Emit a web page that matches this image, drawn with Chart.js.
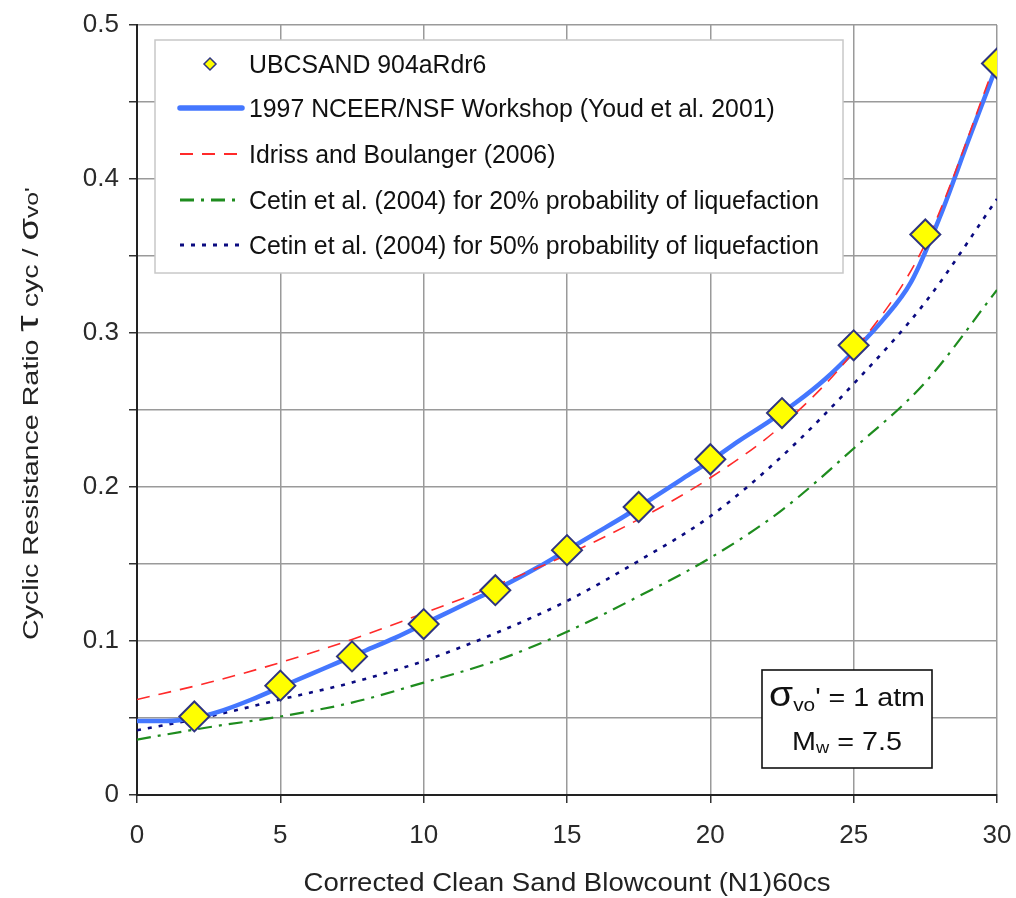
<!DOCTYPE html>
<html>
<head>
<meta charset="utf-8">
<script src="https://cdn.jsdelivr.net/npm/chart.js@4.4.1/dist/chart.umd.min.js"></script>
<style>
html,body{margin:0;padding:0;background:#fff;}
#wrap{position:relative;width:1016px;height:898px;}
</style>
</head>
<body>
<div id="wrap"><canvas id="c" width="1016" height="898"></canvas></div>
<script>
// ---- data ----
const ubcX = [2, 5, 7.5, 10, 12.5, 15, 17.5, 20, 22.5, 25, 27.5, 30];
const ubcY = [0.051, 0.071, 0.090, 0.111, 0.133, 0.159, 0.187, 0.218, 0.248, 0.292, 0.364, 0.475];

const youdX = [0, 1, 2, 3, 4, 5, 6, 7, 8, 9, 10, 11, 12, 13, 14, 15, 16, 17, 18, 19, 20, 21, 22, 23, 24, 25, 26, 27, 28, 29, 30];
const youdY = [0.048, 0.048, 0.050, 0.055, 0.062, 0.070, 0.078, 0.086, 0.094, 0.102, 0.111, 0.120, 0.129, 0.138, 0.148, 0.159, 0.170, 0.181, 0.193, 0.205, 0.217, 0.230, 0.242, 0.255, 0.270, 0.288, 0.308, 0.333, 0.375, 0.425, 0.474];

const ibX = [0, 2.5, 5, 7.5, 10, 12.5, 15, 17.5, 20, 22.5, 25, 27.5, 30];
const ibY = [0.062, 0.073, 0.086, 0.101, 0.118, 0.136, 0.156, 0.179, 0.206, 0.240, 0.288, 0.358, 0.478];

const c20X = [0, 2.5, 5, 7.5, 10, 12.5, 15, 17.5, 20, 22.5, 25, 27.5, 30];
const c20Y = [0.036, 0.044, 0.051, 0.060, 0.073, 0.087, 0.106, 0.129, 0.154, 0.185, 0.225, 0.268, 0.328];

const c50X = [0, 2.5, 5, 7.5, 10, 12.5, 15, 17.5, 20, 22.5, 25, 27.5, 30];
const c50Y = [0.042, 0.051, 0.062, 0.073, 0.087, 0.105, 0.126, 0.152, 0.181, 0.220, 0.267, 0.320, 0.387];

const seriesNames = [
  "UBCSAND 904aRdr6",
  "1997 NCEER/NSF Workshop (Youd et al. 2001)",
  "Idriss and Boulanger (2006)",
  "Cetin et al. (2004) for 20% probability of liquefaction",
  "Cetin et al. (2004) for 50% probability of liquefaction"
];
const xTickValues = [0, 5, 10, 15, 20, 25, 30];
const yTickLabels = ["0", "0.1", "0.2", "0.3", "0.4", "0.5"];
const xTitle = "Corrected Clean Sand Blowcount (N1)60cs";

const FONT = "'Liberation Sans', Arial, sans-serif";
const pts = (xs, ys) => xs.map((x, i) => ({x: x, y: ys[i]}));

const datasets = [
  {label: seriesNames[0], data: pts(ubcX, ubcY), showLine: false, pointStyle: 'rectRot',
   pointRadius: 15, pointHoverRadius: 15, backgroundColor: '#ffff00', borderColor: '#2f3580', pointBorderWidth: 2, order: 0},
  {label: seriesNames[1], data: pts(youdX, youdY), showLine: true, borderColor: '#4477ff', borderWidth: 4.5,
   pointRadius: 0, cubicInterpolationMode: 'monotone', order: 2, borderCapStyle: 'round'},
  {label: seriesNames[2], data: pts(ibX, ibY), showLine: true, borderColor: '#ff2a2a', borderWidth: 1.6,
   borderDash: [13, 9], pointRadius: 0, cubicInterpolationMode: 'monotone', order: 1},
  {label: seriesNames[3], data: pts(c20X, c20Y), showLine: true, borderColor: '#1e8c1e', borderWidth: 2.2,
   borderDash: [14, 7, 3, 7], pointRadius: 0, cubicInterpolationMode: 'monotone', order: 4},
  {label: seriesNames[4], data: pts(c50X, c50Y), showLine: true, borderColor: '#0a0a80', borderWidth: 2.6,
   borderDash: [4, 7], pointRadius: 0, cubicInterpolationMode: 'monotone', order: 3}
];

// draw text segments [text, size, dy] stretched to a target width, with a cross-axis stretch
function drawStretched(ctx, segs, x0, baseY, targetW, vScale, align) {
  let total = 0;
  segs.forEach(s => { ctx.font = s[1] + "px " + FONT; s.w = ctx.measureText(s[0]).width; total += s.w; });
  const hs = targetW ? targetW / total : 1;
  const start = align === 'center' ? x0 - total * hs / 2 : x0;
  ctx.save();
  ctx.translate(start, baseY);
  ctx.scale(hs, vScale);
  let x = 0;
  segs.forEach(s => { ctx.font = s[1] + "px " + FONT; ctx.fillText(s[0], x, (s[2] || 0)); x += s.w; });
  ctx.restore();
}

const overlay = {
  id: 'overlay',
  afterDraw(chart) {
    const ctx = chart.ctx;
    const ca = chart.chartArea;
    ctx.save();
    // ---- legend ----
    const lx = 155, ly = 40, lw = 688, lh = 233;
    ctx.fillStyle = '#fff';
    ctx.fillRect(lx, ly, lw, lh);
    ctx.strokeStyle = '#c8c8c8';
    ctx.lineWidth = 1.5;
    ctx.strokeRect(lx, ly, lw, lh);
    ctx.font = "20px " + FONT;
    const refW = ctx.measureText(seriesNames[3]).width;
    const legScale = 570 / refW;
    ctx.textBaseline = 'alphabetic';
    ctx.textAlign = 'left';
    const rows = [64, 108, 154, 200, 245];
    chart.data.datasets.forEach((ds, i) => {
      const y = rows[i];
      if (i === 0) {
        ctx.beginPath();
        ctx.moveTo(210, y - 6); ctx.lineTo(216, y); ctx.lineTo(210, y + 6); ctx.lineTo(204, y); ctx.closePath();
        ctx.fillStyle = ds.backgroundColor; ctx.fill();
        ctx.strokeStyle = ds.borderColor; ctx.lineWidth = 1.5; ctx.stroke();
      } else {
        ctx.beginPath();
        ctx.setLineDash(ds.borderDash || []);
        ctx.lineCap = i === 1 ? 'round' : 'butt';
        ctx.strokeStyle = ds.borderColor;
        ctx.lineWidth = ds.borderWidth + (i === 1 ? 1 : 0.6);
        ctx.moveTo(180, y); ctx.lineTo(242, y);
        ctx.stroke();
        ctx.setLineDash([]);
      }
      ctx.fillStyle = '#111';
      ctx.font = "20px " + FONT;
      const w = ctx.measureText(ds.label).width * legScale;
      drawStretched(ctx, [[ds.label, 20, 0]], 249, y + 9, w, 1.25, 'left');
    });

    // ---- info box ----
    const bx = 762, by = 670, bw = 170, bh = 98;
    ctx.fillStyle = '#fff';
    ctx.fillRect(bx, by, bw, bh);
    ctx.strokeStyle = '#111';
    ctx.lineWidth = 1.6;
    ctx.strokeRect(bx, by, bw, bh);
    ctx.fillStyle = '#111';
    drawStretched(ctx, [["σ", 30, 0], ["vo", 16, 4], ["' = 1 atm", 22, 0]], bx + bw / 2, 706, 156, 1.15, 'center');
    drawStretched(ctx, [["M", 22, 0], ["w", 14, 3], [" = 7.5", 22, 0]], bx + bw / 2, 750, 110, 1.15, 'center');

    // ---- x title ----
    ctx.fillStyle = '#222';
    drawStretched(ctx, [[xTitle, 21, 0]], (ca.left + ca.right) / 2, 891, 527, 1.2, 'center');

    // ---- y title ----
    ctx.save();
    ctx.translate(38, 640);
    ctx.rotate(-Math.PI / 2);
    ctx.scale(1.3, 1);
    const ysegs = [["Cyclic Resistance Ratio ", 22, 0], ["τ", 32, 0], [" cyc", 22, 0], [" / ", 22, 0], ["σ", 28, 0], ["vo'", 19, 0]];
    let x = 0;
    ysegs.forEach(s => { ctx.font = s[1] + "px " + FONT; ctx.fillText(s[0], x, s[2]); x += ctx.measureText(s[0]).width; });
    ctx.restore();
    ctx.restore();
  }
};

new Chart(document.getElementById('c'), {
  type: 'scatter',
  data: {datasets: datasets},
  options: {
    responsive: false,
    animation: false,
    events: [],
    layout: {padding: {left: 0, right: 19, top: 25, bottom: 0}},
    plugins: {legend: {display: false}, tooltip: {enabled: false}},
    scales: {
      x: {
        type: 'linear', min: 0, max: 30,
        afterBuildTicks: (s) => { s.ticks = xTickValues.map(v => ({value: v})); },
        afterFit: (s) => { s.height = 103; s.paddingRight = 0; s.paddingLeft = 0; },
        ticks: {font: {size: 26, family: FONT}, color: '#2a2a2a', padding: 17, maxRotation: 0},
        grid: {color: '#9a9a9a', lineWidth: 1.5, tickLength: 8, tickColor: '#333', drawOnChartArea: true},
        border: {color: '#222', width: 2}
      },
      y: {
        type: 'linear', min: 0, max: 0.5,
        afterBuildTicks: (s) => { const t = []; for (let i = 0; i <= 10; i++) t.push({value: i * 0.05}); s.ticks = t; },
        afterFit: (s) => { s.width = 137; s.paddingTop = 0; s.paddingBottom = 0; },
        ticks: {
          font: {size: 26, family: FONT}, color: '#2a2a2a', padding: 10,
          callback: (v, i) => (i % 2 === 0 ? yTickLabels[i / 2] : '')
        },
        grid: {color: '#9a9a9a', lineWidth: 1.5, tickLength: 8, tickColor: '#333'},
        border: {color: '#222', width: 2}
      }
    }
  },
  plugins: [overlay]
});
</script>
</body>
</html>
